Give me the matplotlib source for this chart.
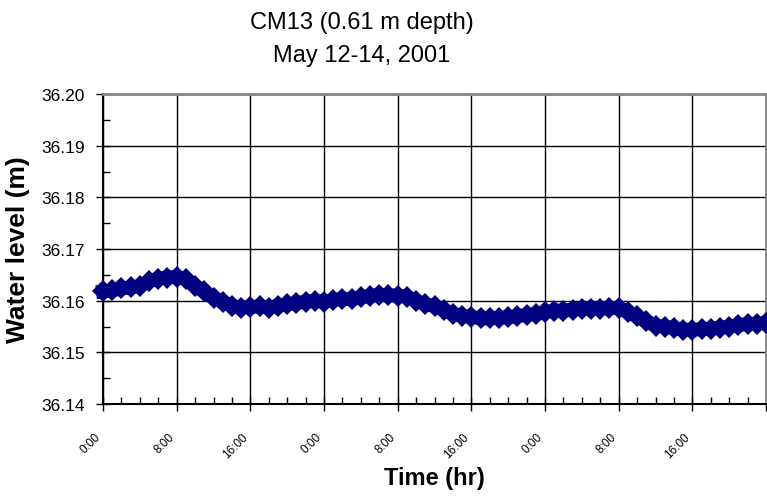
import numpy as np
import matplotlib.pyplot as plt
from matplotlib.ticker import MultipleLocator, FixedLocator

plt.rcParams['font.family'] = ['Liberation Sans', 'DejaVu Sans']

# hourly water level readings, May 12-14 2001 (hours since 0:00 May 12)
hours = list(range(0, 73))
level = [36.1618, 36.1620, 36.1624, 36.1626, 36.1628, 36.1638, 36.1643, 36.1645,
         36.1646, 36.1642, 36.1628, 36.1618, 36.1606, 36.1598, 36.1590, 36.1587,
         36.1588, 36.1589, 36.1587, 36.1590, 36.1593, 36.1596, 36.1598, 36.1600,
         36.1598, 36.1601, 36.1604, 36.1603, 36.1607, 36.1609, 36.1612, 36.1611,
         36.1610, 36.1608, 36.1600, 36.1593, 36.1590, 36.1582, 36.1575, 36.1571,
         36.1569, 36.1566, 36.1566, 36.1567, 36.1568, 36.1570, 36.1573, 36.1574,
         36.1578, 36.1581, 36.1581, 36.1583, 36.1584, 36.1585, 36.1585, 36.1586,
         36.1586, 36.1578, 36.1570, 36.1560, 36.1552, 36.1550, 36.1547, 36.1544,
         36.1544, 36.1545, 36.1546, 36.1548, 36.1550, 36.1553, 36.1555, 36.1556,
         36.1557]

tick_hours = list(range(0, 73, 8))
tick_labels = ['0:00', '8:00', '16:00'] * 3 + ['']

fig = plt.figure(figsize=(7.67, 5.02), dpi=100)
ax = fig.add_axes([0.1343, 0.193, 0.8644, 0.6175])

ax.plot(hours, level, color='#000080', linewidth=10, marker='D', markersize=11,
        markeredgewidth=0, solid_joinstyle='round', zorder=3, clip_on=False)

ax.set_xlim(0, 72)
ax.set_ylim(36.14, 36.20)

ax.xaxis.set_major_locator(FixedLocator(tick_hours))
ax.xaxis.set_minor_locator(MultipleLocator(2))
ax.set_xticklabels(tick_labels, rotation=45, ha='right', fontsize=8)
ax.yaxis.set_major_locator(MultipleLocator(0.01))
ax.yaxis.set_minor_locator(MultipleLocator(0.005))
ax.yaxis.set_major_formatter(plt.FormatStrFormatter('%.2f'))

ax.tick_params(which='major', direction='inout', length=10, width=1, colors='black')
ax.tick_params(axis='y', which='major', pad=8, labelsize=12.5)
ax.tick_params(axis='x', which='major', pad=14, labelsize=8.5)
ax.tick_params(which='minor', direction='in', length=5, width=1)

ax.grid(True, which='major', color='black', linewidth=1)
for side in ['left', 'bottom']:
    ax.spines[side].set_linewidth(1.5)
    ax.spines[side].set_color('black')
for side in ['right', 'top']:
    ax.spines[side].set_linewidth(2)
    ax.spines[side].set_color('#888888')

ax.set_xlabel('Time (hr)', fontsize=17, fontweight='bold', labelpad=4)
ax.set_ylabel('Water level (m)', fontsize=19, fontweight='bold', labelpad=8)

fig.text(0.472, 0.955, 'CM13 (0.61 m depth)', ha='center', va='center', fontsize=17)
fig.text(0.472, 0.888, 'May 12-14, 2001', ha='center', va='center', fontsize=17)

fig.savefig('out.png', dpi=100)
